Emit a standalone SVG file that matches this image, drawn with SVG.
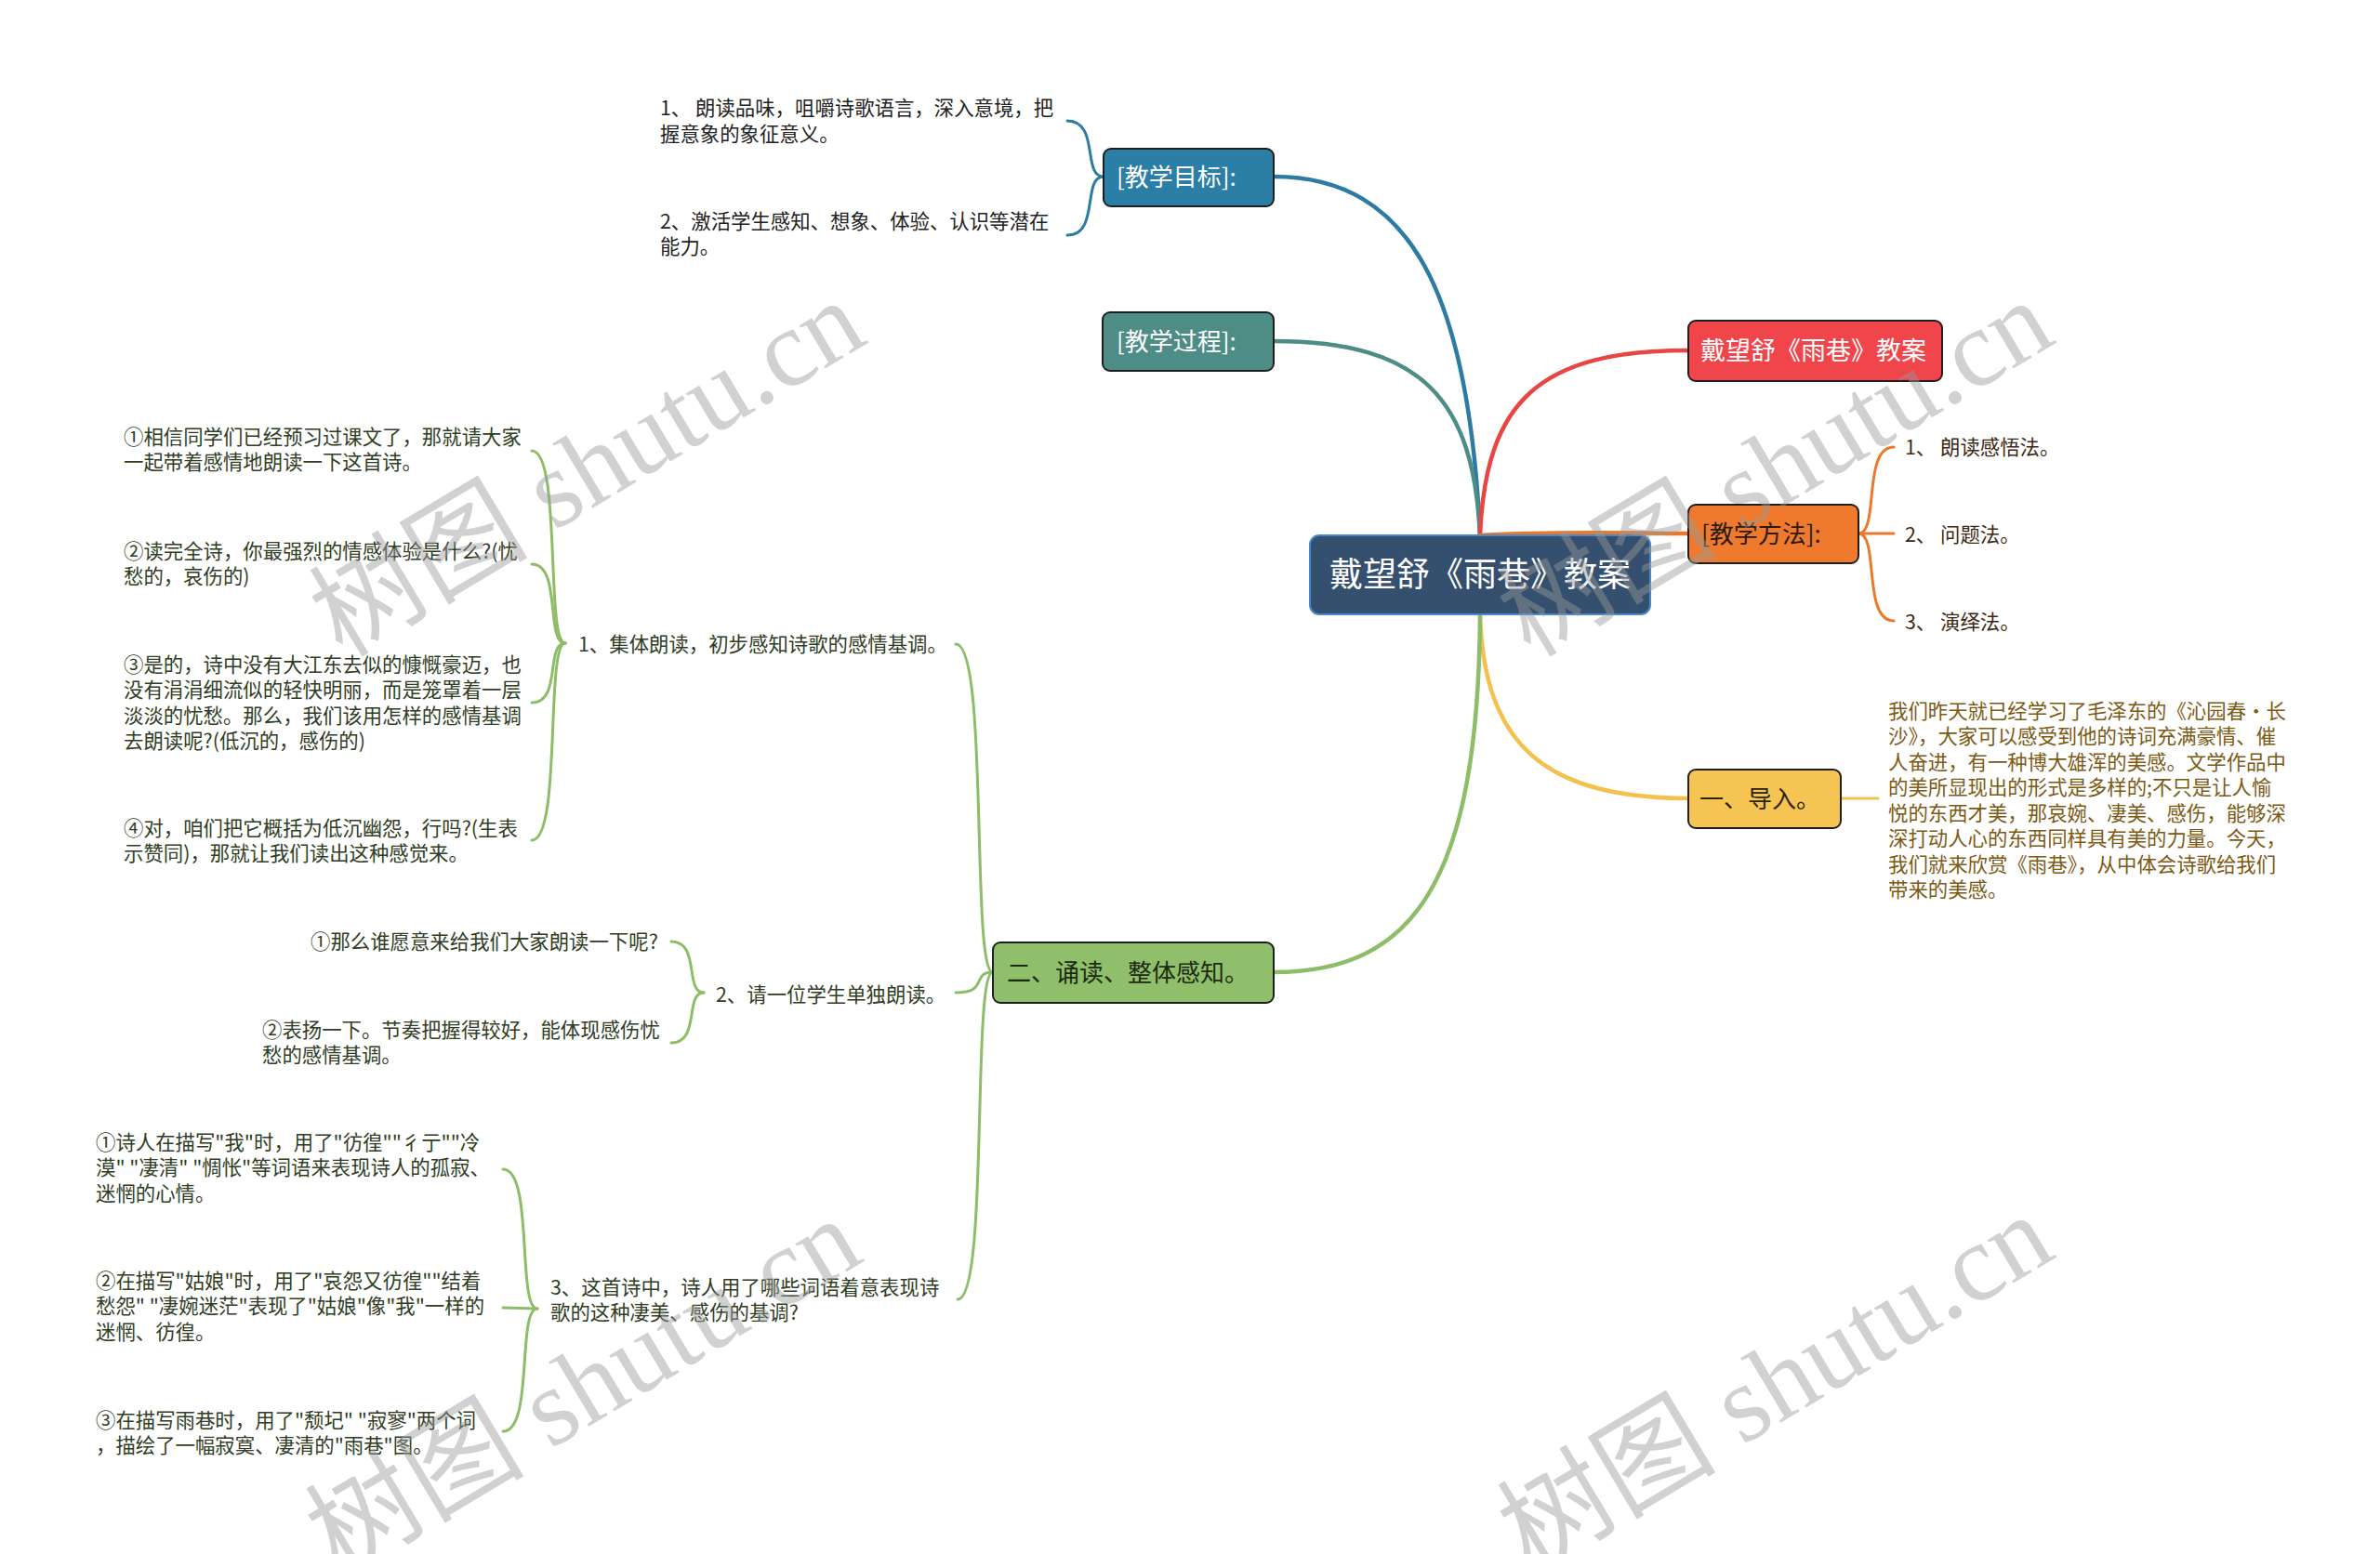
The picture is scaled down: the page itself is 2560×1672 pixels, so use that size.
<svg xmlns="http://www.w3.org/2000/svg" width="2560" height="1672" viewBox="0 0 2560 1672">
<style>
text{font-family:"Noto Sans CJK SC","Liberation Sans",sans-serif;}
.t21{font-size:21.4px;}
.nt{font-size:26px;}
.c{fill:none;stroke-linecap:round;}
.main{stroke-width:4.5;}
.sub{stroke-width:3;}
.box{stroke:#1e1e1e;stroke-width:2;}
.wm{font-family:"Liberation Serif","Noto Sans CJK SC",serif;font-size:118px;fill:#9a9a9a;fill-opacity:0.45;}
</style>
<rect width="2560" height="1672" fill="#ffffff"/>

<g id="connectors">
  <path class="c main" stroke="#2c7ba3" d="M1592,576 C1580,320 1520,190 1370,190"/>
  <path class="c main" stroke="#4e8c86" d="M1592,576 C1585,430 1530,367 1370,367"/>
  <path class="c main" stroke="#e84545" d="M1592,576 C1598,432 1655,377 1816,377"/>
  <path class="c main" stroke="#e87a2e" d="M1592,576 C1680,571 1760,574 1816,574"/>
  <path class="c main" stroke="#f2c14e" d="M1592,661 C1596,800 1660,859 1816,859"/>
  <path class="c main" stroke="#8dbd68" d="M1592,661 C1590,950 1520,1046 1370,1046"/>
  <g stroke="#2c7ba3">
    <path class="c sub" d="M1187,190 C1163.6,190 1183.1,130 1148,130"/>
    <path class="c sub" d="M1187,190 C1163.6,190 1183.1,253 1148,253"/>
  </g>
  <g stroke="#e87a2e">
    <path class="c sub" d="M1999,574 C2021.8,574 2002.8,481 2037,481"/>
    <path class="c sub" d="M1999,574 L2037,574"/>
    <path class="c sub" d="M1999,574 C2021.8,574 2002.8,668 2037,668"/>
  </g>
  <path class="c sub" stroke="#f2c14e" d="M1980,859 L2020,859"/>
  <g stroke="#8dbd68">
    <path class="c sub" d="M1068,1046 C1044,1046 1064,693 1028,693"/>
    <path class="c sub" d="M1068,1046 C1044,1046 1064,1068 1028,1068"/>
    <path class="c sub" d="M1068,1046 C1045,1046 1064,1398 1030,1398"/>
    <path class="c sub" d="M608,692 C586.4,692 604.4,485 572,485"/>
    <path class="c sub" d="M608,692 C586.4,692 604.4,607 572,607"/>
    <path class="c sub" d="M608,692 C586.4,692 604.4,756 572,756"/>
    <path class="c sub" d="M608,692 C586.4,692 604.4,904 572,904"/>
    <path class="c sub" d="M757,1068 C736,1068 753.5,1013 722,1013"/>
    <path class="c sub" d="M757,1068 C736,1068 753.5,1122 722,1122"/>
    <path class="c sub" d="M578,1408 C555.8,1408 574.3,1258 541,1258"/>
    <path class="c sub" d="M578,1408 L541,1407"/>
    <path class="c sub" d="M578,1408 C555.8,1408 574.3,1540 541,1540"/>
  </g>
</g>

<g id="root">
  <rect x="1409" y="576" width="366" height="85" rx="10" fill="#35506e" stroke="#4a86c8" stroke-width="2"/>
  <text x="1592" y="631" font-size="36" fill="#ffffff" text-anchor="middle">戴望舒《雨巷》教案</text>
</g>

<g id="node-mubiao">
  <rect class="box" x="1187" y="160" width="183" height="62" rx="8" fill="#2b7ea6"/>
  <text class="nt" x="1201" y="200" fill="#ffffff">[教学目标]:</text>
</g>
<g id="mubiao-1">
  <text class="t21" fill="#222222"><tspan x="710" y="124">1、 朗读品味，咀嚼诗歌语言，深入意境，把</tspan><tspan x="710" y="151.5">握意象的象征意义。</tspan></text>
</g>
<g id="mubiao-2">
  <text class="t21" fill="#222222"><tspan x="710" y="245.5">2、激活学生感知、想象、体验、认识等潜在</tspan><tspan x="710" y="273">能力。</tspan></text>
</g>

<g id="node-guocheng">
  <rect class="box" x="1186" y="336" width="184" height="63" rx="8" fill="#4e8c86"/>
  <text class="nt" x="1201" y="377" fill="#ffffff">[教学过程]:</text>
</g>

<g id="node-title">
  <rect class="box" x="1816" y="345" width="273" height="65" rx="8" fill="#f0454b"/>
  <text x="1829" y="387" font-size="27" fill="#ffffff">戴望舒《雨巷》教案</text>
</g>

<g id="node-fangfa">
  <rect class="box" x="1816" y="543" width="183" height="63" rx="8" fill="#ef7a2e"/>
  <text class="nt" x="1830" y="584" fill="#2b1a0e">[教学方法]:</text>
</g>
<g id="fangfa-1"><text class="t21" x="2049" y="488.5" fill="#3d2814">1、 朗读感悟法。</text></g>
<g id="fangfa-2"><text class="t21" x="2049" y="582.5" fill="#3d2814">2、 问题法。</text></g>
<g id="fangfa-3"><text class="t21" x="2049" y="676.5" fill="#3d2814">3、 演绎法。</text></g>

<g id="node-daoru">
  <rect class="box" x="1816" y="828" width="164" height="63" rx="8" fill="#f6c453"/>
  <text class="nt" x="1828" y="869" fill="#2a2410">一、导入。</text>
</g>
<g id="daoru-1">
  <text class="t21" fill="#7c5a14">
    <tspan x="2031" y="772.5">我们昨天就已经学习了毛泽东的《沁园春•长</tspan>
    <tspan x="2031" y="800">沙》，大家可以感受到他的诗词充满豪情、催</tspan>
    <tspan x="2031" y="827.5">人奋进，有一种博大雄浑的美感。文学作品中</tspan>
    <tspan x="2031" y="855">的美所显现出的形式是多样的;不只是让人愉</tspan>
    <tspan x="2031" y="882.5">悦的东西才美，那哀婉、凄美、感伤，能够深</tspan>
    <tspan x="2031" y="910">深打动人心的东西同样具有美的力量。今天，</tspan>
    <tspan x="2031" y="937.5">我们就来欣赏《雨巷》，从中体会诗歌给我们</tspan>
    <tspan x="2031" y="965">带来的美感。</tspan>
  </text>
</g>

<g id="node-songdu">
  <rect class="box" x="1068" y="1014" width="302" height="65" rx="8" fill="#8fbf6a"/>
  <text class="nt" x="1083" y="1056" fill="#1c2a10">二、诵读、整体感知。</text>
</g>

<g id="songdu-1"><text class="t21" x="622" y="700.5" fill="#2f3d24">1、集体朗读，初步感知诗歌的感情基调。</text></g>
<g id="songdu-1-1"><text class="t21" fill="#2f3d24"><tspan x="133" y="477.5">①相信同学们已经预习过课文了，那就请大家</tspan><tspan x="133" y="505">一起带着感情地朗读一下这首诗。</tspan></text></g>
<g id="songdu-1-2"><text class="t21" fill="#2f3d24"><tspan x="133" y="600.5">②读完全诗，你最强烈的情感体验是什么?(忧</tspan><tspan x="133" y="628">愁的，哀伤的)</tspan></text></g>
<g id="songdu-1-3"><text class="t21" fill="#2f3d24"><tspan x="133" y="722.5">③是的，诗中没有大江东去似的慷慨豪迈，也</tspan><tspan x="133" y="750">没有涓涓细流似的轻快明丽，而是笼罩着一层</tspan><tspan x="133" y="777.5">淡淡的忧愁。那么，我们该用怎样的感情基调</tspan><tspan x="133" y="805">去朗读呢?(低沉的，感伤的)</tspan></text></g>
<g id="songdu-1-4"><text class="t21" fill="#2f3d24"><tspan x="133" y="898.5">④对，咱们把它概括为低沉幽怨，行吗?(生表</tspan><tspan x="133" y="926">示赞同)，那就让我们读出这种感觉来。</tspan></text></g>

<g id="songdu-2"><text class="t21" x="770" y="1077.5" fill="#2f3d24">2、请一位学生单独朗读。</text></g>
<g id="songdu-2-1"><text class="t21" x="334" y="1020.5" fill="#2f3d24">①那么谁愿意来给我们大家朗读一下呢?</text></g>
<g id="songdu-2-2"><text class="t21" fill="#2f3d24"><tspan x="282" y="1115.5">②表扬一下。节奏把握得较好，能体现感伤忧</tspan><tspan x="282" y="1143">愁的感情基调。</tspan></text></g>

<g id="songdu-3"><text class="t21" fill="#2f3d24"><tspan x="592" y="1392.5">3、这首诗中，诗人用了哪些词语着意表现诗</tspan><tspan x="592" y="1420">歌的这种凄美、感伤的基调?</tspan></text></g>
<g id="songdu-3-1"><text class="t21" fill="#2f3d24"><tspan x="103" y="1236.5">①诗人在描写"我"时，用了"彷徨""彳亍""冷</tspan><tspan x="103" y="1264">漠" "凄清" "惆怅"等词语来表现诗人的孤寂、</tspan><tspan x="103" y="1291.5">迷惘的心情。</tspan></text></g>
<g id="songdu-3-2"><text class="t21" fill="#2f3d24"><tspan x="103" y="1385.5">②在描写"姑娘"时，用了"哀怨又彷徨""结着</tspan><tspan x="103" y="1413">愁怨" "凄婉迷茫"表现了"姑娘"像"我"一样的</tspan><tspan x="103" y="1440.5">迷惘、彷徨。</tspan></text></g>
<g id="songdu-3-3"><text class="t21" fill="#2f3d24"><tspan x="103" y="1535.5">③在描写雨巷时，用了"颓圮" "寂寥"两个词</tspan><tspan x="103" y="1563">，描绘了一幅寂寞、凄清的"雨巷"图。</tspan></text></g>

<g id="watermarks">
  <text class="wm" text-anchor="middle" transform="translate(652,538) rotate(-31)">树图 shutu.cn</text>
  <text class="wm" text-anchor="middle" transform="translate(1930,538) rotate(-31)">树图 shutu.cn</text>
  <text class="wm" text-anchor="middle" transform="translate(648,1526) rotate(-31)">树图 shutu.cn</text>
  <text class="wm" text-anchor="middle" transform="translate(1930,1522) rotate(-31)">树图 shutu.cn</text>
</g>
</svg>
